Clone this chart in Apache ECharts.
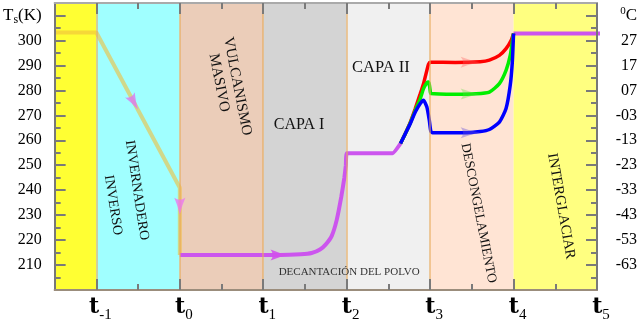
<!DOCTYPE html>
<html>
<head>
<meta charset="utf-8">
<script src="https://cdn.jsdelivr.net/npm/echarts@6/dist/echarts.min.js"></script>
<style>html,body{margin:0;padding:0;background:#fff}#main{width:640px;height:328px}</style>
</head>
<body>
<div id="main"></div>
<script>
// ticks and labels
var tTicks = [-1, 0, 1, 2, 3, 4, 5];
var tSubs = ['-1', '0', '1', '2', '3', '4', '5'];
var tMinor = [-0.5, 0.5, 1.5, 2.5, 3.5, 4.5];
var kTicks = [210, 220, 230, 240, 250, 260, 270, 280, 290, 300, 310];
var kMinor = [205, 215, 225, 235, 245, 255, 265, 275, 285, 295, 305];
var celsiusLabels = ['-63', '-53', '-43', '-33', '-23', '-13', '-03', '07', '17', '27'];

// stages
var bandEdges = [-1.5, -1, 0, 1, 2, 3, 4, 5];
var bandColors = ['#ffff33', '#a0ffff', '#ebcdb9', '#d4d4d4', '#f0f0f0', '#ffe4d4', '#ffff80'];

// temperature paths [t, K]
var greenhouseLine = [[-1.5, 303.2], [-1, 303.2], [0, 241], [0, 214]];
var dustLine = [[0, 214], [1.2, 214], [1.45, 214.3], [1.58, 214.8], [1.68, 216.2], [1.75, 218.3], [1.82, 221.6],
  [1.88, 228], [1.935, 237.3], [1.972, 245], [1.99, 250], [2.003, 254.8], [2.55, 254.8], [2.645, 258.7]];
var redLine = [[2.645, 258.7], [2.704, 262.8], [2.763, 267.3], [2.822, 272.7], [2.882, 278.7], [2.921, 282.7],
  [2.961, 288], [2.98, 290.4], [3.0, 291.3], [3.3, 291.2], [3.6, 291.5], [3.71, 292.1], [3.83, 294],
  [3.91, 296.7], [3.97, 300], [4, 302.8]];
var greenLine = [[2.645, 258.7], [2.704, 262.7], [2.763, 267], [2.822, 272], [2.882, 276.7], [2.921, 280.7],
  [2.961, 283], [2.98, 283.3], [2.99, 282.4], [3.0, 280], [3.01, 278.7], [3.3, 278.4], [3.55, 278.6],
  [3.71, 279.3], [3.83, 282.7], [3.91, 288], [3.96, 294], [3.99, 300.7], [4, 302.8]];
var blueLine = [[2.645, 258.7], [2.704, 262.7], [2.763, 266.7], [2.822, 271.3], [2.882, 274.7], [2.92, 276],
  [2.961, 273.3], [2.99, 268], [3.008, 263.7], [3.03, 263], [3.4, 263], [3.6, 263.5], [3.71, 264.3],
  [3.83, 267.3], [3.91, 272.7], [3.96, 282], [3.985, 291.3], [4, 302.8]];
var warmLine = [[4, 302.8], [5.1, 302.8]];

// labels in the stages [t, K, text, size, angle]
var stageNotes = [
  [-0.515, 240, 'INVERNADERO', 14, -81.5],
  [-0.8, 234, 'INVERSO', 14, -81],
  [0.69, 281.6, 'VULCANISMO', 15, -79],
  [0.47, 283, 'MASIVO', 15, -79],
  [1.43, 266, 'CAPA I', 16, 0],
  [2.41, 289.2, 'CAPA II', 16.5, 0],
  [2.03, 207.2, 'DECANTACIÓN DEL POLVO', 11, 0],
  [3.58, 230.8, 'DESCONGELAMIENTO', 13.5, -79],
  [4.57, 233.6, 'INTERGLACIAR', 14.5, -80]
];

var serif = '"Liberation Serif", "DejaVu Serif", serif';
var arrowPath = 'path://M0,0 Q8,4 16,6 Q8,8 0,12 Q4,6 0,0 Z';

function arrow(t, k, rot, color, size) {
  return {coord: [t, k], symbol: arrowPath, symbolSize: size || [17, 11], symbolRotate: rot,
    itemStyle: {color: color}, label: {show: false}};
}

var chart = echarts.init(document.getElementById('main'));

var areas = [];
for (var i = 0; i < bandColors.length; i++) {
  areas.push([{xAxis: bandEdges[i], itemStyle: {color: bandColors[i]}}, {xAxis: bandEdges[i + 1]}]);
}

var xBase = {type: 'value', min: -1.5, max: 5, gridIndex: 0, z: 6, splitLine: {show: false}};
var yBase = {type: 'value', min: 200, max: 315, gridIndex: 0, z: 6, splitLine: {show: false}};
var tickStyle = {color: '#7a7a7a', width: 2};

var option = {
  animation: false,
  grid: {left: 50, right: 41, top: 3, bottom: 38},
  xAxis: [
    Object.assign({}, xBase, {
      position: 'bottom',
      axisLine: {onZero: false, lineStyle: {color: '#9b8d7c', width: 2}},
      axisTick: {inside: true, length: 11, customValues: tTicks, lineStyle: tickStyle},
      axisLabel: {
        customValues: tTicks, margin: 6,
        formatter: function (v) { return '{t|t}{s|' + tSubs[tTicks.indexOf(v)] + '}'; },
        rich: {
          t: {fontFamily: '"DejaVu Serif"', fontWeight: 'bold', fontSize: 22, color: '#000', verticalAlign: 'top', padding: [0, 0, 0, 8]},
          s: {fontFamily: serif, fontSize: 15, color: '#000', verticalAlign: 'top', padding: [12, 0, 0, 0]}
        }
      }
    }),
    Object.assign({}, xBase, {
      position: 'bottom', axisLine: {show: false, onZero: false}, axisLabel: {show: false},
      axisTick: {inside: true, length: 6, customValues: tMinor, lineStyle: tickStyle}
    }),
    Object.assign({}, xBase, {
      position: 'top', axisLine: {onZero: false, lineStyle: {color: '#aaa', width: 2}}, axisLabel: {show: false},
      axisTick: {inside: true, length: 11, customValues: tTicks, lineStyle: tickStyle}
    }),
    Object.assign({}, xBase, {
      position: 'top', axisLine: {show: false, onZero: false}, axisLabel: {show: false},
      axisTick: {inside: true, length: 6, customValues: tMinor, lineStyle: tickStyle}
    })
  ],
  yAxis: [
    Object.assign({}, yBase, {
      position: 'left',
      axisLine: {onZero: false, lineStyle: {color: '#777', width: 2}},
      axisTick: {inside: true, length: 11, customValues: kTicks, lineStyle: tickStyle},
      axisLabel: {
        customValues: kTicks, margin: 13, color: '#000', fontFamily: serif, fontSize: 16,
        formatter: function (v) { return v === 310 ? '{a|T}{s|s}{a|(K)}' : String(v); },
        rich: {
          a: {fontFamily: serif, fontSize: 17, color: '#000'},
          s: {fontFamily: serif, fontSize: 12, color: '#000', padding: [8, 0, 0, 0]}
        }
      }
    }),
    Object.assign({}, yBase, {
      position: 'left', axisLine: {show: false, onZero: false}, axisLabel: {show: false},
      axisTick: {inside: true, length: 6, customValues: kMinor, lineStyle: tickStyle}
    }),
    Object.assign({}, yBase, {
      position: 'right',
      axisLine: {onZero: false, lineStyle: {color: '#777', width: 2}},
      axisTick: {inside: true, length: 11, customValues: kTicks, lineStyle: tickStyle},
      axisLabel: {
        customValues: kTicks, margin: 40, align: 'right', color: '#000', fontFamily: serif, fontSize: 16,
        formatter: function (v) { return v === 310 ? '{u|0}{a|C}' : celsiusLabels[kTicks.indexOf(v)]; },
        rich: {
          a: {fontFamily: serif, fontSize: 17, color: '#000'},
          u: {fontFamily: serif, fontSize: 11, color: '#000', padding: [0, 0, 8, 0]}
        }
      }
    }),
    Object.assign({}, yBase, {
      position: 'right', axisLine: {show: false, onZero: false}, axisLabel: {show: false},
      axisTick: {inside: true, length: 6, customValues: kMinor, lineStyle: tickStyle}
    })
  ],
  series: [
    {
      type: 'line', data: [], z: 1, silent: true,
      markArea: {silent: true, data: areas},
      markLine: {
        silent: true, symbol: 'none', label: {show: false},
        lineStyle: {color: 'rgba(232,170,90,0.75)', width: 1.5, type: 'solid'},
        data: bandEdges.slice(1, 6).map(function (e) { return {xAxis: e}; })
      }
    },
    {
      type: 'line', data: greenhouseLine, z: 3, symbol: 'none',
      lineStyle: {color: 'rgba(240,190,60,0.6)', width: 4},
      markPoint: {data: [arrow(-0.55, 275.2, -61.5, 'rgba(220,120,240,0.8)'), arrow(0, 233.6, -90, 'rgba(235,120,240,0.8)')]}
    },
    {
      type: 'line', data: dustLine, z: 3, symbol: 'none', smooth: 0.12,
      lineStyle: {color: '#cc55ee', width: 4},
      markPoint: {data: [arrow(1.19, 214, 0, 'rgba(210,80,235,0.9)')]}
    },
    {
      type: 'line', data: redLine, z: 4, symbol: 'none', smooth: 0.2,
      lineStyle: {color: '#ff0000', width: 3.5},
      markPoint: {data: [arrow(3.48, 291.3, 0, 'rgba(255,90,90,0.35)', [19, 11])]}
    },
    {
      type: 'line', data: greenLine, z: 4, symbol: 'none', smooth: 0.2,
      lineStyle: {color: '#00ee00', width: 3.5},
      markPoint: {data: [arrow(3.48, 278.5, 0, 'rgba(90,220,60,0.35)', [19, 11])]}
    },
    {
      type: 'line', data: blueLine, z: 4, symbol: 'none', smooth: 0.2,
      lineStyle: {color: '#0000ff', width: 3.5},
      markPoint: {data: [arrow(3.48, 263, 0, 'rgba(100,80,220,0.4)', [19, 11])]}
    },
    {
      type: 'line', data: warmLine, z: 3, symbol: 'none',
      lineStyle: {color: '#cc55ee', width: 4}
    }
  ]
};
chart.setOption(option);

var notes = stageNotes.map(function (n) {
  var p = chart.convertToPixel({gridIndex: 0}, [n[0], n[1]]);
  return {
    type: 'text', x: p[0], y: p[1], rotation: n[4] * Math.PI / 180, z: 10,
    style: {text: n[2], fontFamily: serif, fontSize: n[3], fill: n[3] < 12 ? '#333' : '#111',
      align: 'center', verticalAlign: 'middle'}
  };
});
chart.setOption({graphic: notes});
</script>
</body>
</html>
